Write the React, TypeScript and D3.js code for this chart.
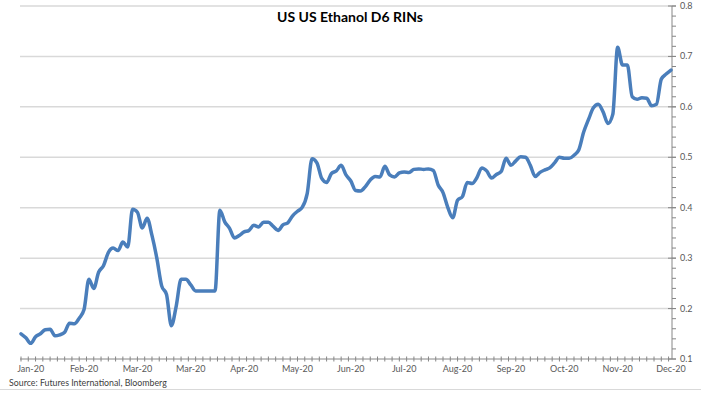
import React from 'react';
import * as d3 from 'd3';

// RIN price at evenly spaced points
const rinValues = [
  0.150, 0.142, 0.131, 0.144, 0.150, 0.158, 0.159, 0.146, 0.148, 0.153,
  0.171, 0.170, 0.181, 0.198, 0.258, 0.240, 0.272, 0.285, 0.311, 0.320,
  0.315, 0.332, 0.322, 0.397, 0.391, 0.360, 0.379, 0.345, 0.300, 0.245,
  0.228, 0.166, 0.205, 0.258, 0.258, 0.247, 0.235, 0.235, 0.235, 0.235,
  0.235, 0.395, 0.372, 0.359, 0.340, 0.345, 0.352, 0.355, 0.365, 0.362,
  0.371, 0.371, 0.363, 0.355, 0.366, 0.370, 0.384, 0.393, 0.401, 0.428,
  0.497, 0.489, 0.458, 0.450, 0.468, 0.473, 0.484, 0.465, 0.453, 0.434,
  0.433, 0.442, 0.455, 0.462, 0.461, 0.482, 0.465, 0.461, 0.469, 0.471,
  0.470, 0.476, 0.477, 0.476, 0.477, 0.474, 0.445, 0.430, 0.400, 0.380,
  0.415, 0.422, 0.450, 0.448, 0.460, 0.479, 0.473, 0.459, 0.466, 0.472,
  0.498, 0.484, 0.493, 0.501, 0.500, 0.484, 0.462, 0.470, 0.475, 0.479,
  0.489, 0.500, 0.498, 0.498, 0.504, 0.515, 0.550, 0.575, 0.598, 0.605,
  0.590, 0.567, 0.585, 0.718, 0.683, 0.683, 0.620, 0.615, 0.618, 0.617,
  0.602, 0.605, 0.655, 0.665, 0.673
];

const monthLabels = [
  'Jan-20', 'Feb-20', 'Mar-20', 'Mar-20', 'Apr-20', 'May-20', 'Jun-20',
  'Jul-20', 'Aug-20', 'Sep-20', 'Oct-20', 'Nov-20', 'Dec-20'
];
const labelStep = 11; // points between month labels
const yTicks = [0.1, 0.2, 0.3, 0.4, 0.5, 0.6, 0.7, 0.8];

function App() {
  const w = 701,
    h = 393;
  const plot = { left: 20, right: 672, top: 6, bottom: 359 };

  const x = d3.scaleLinear()
    .domain([0, rinValues.length - 1])
    .range([plot.left + 1, plot.right - 1]);
  const y = d3.scaleLinear().domain([0.1, 0.8]).range([plot.bottom, plot.top]);

  const line = d3.line<number>()
    .x((d, i) => x(i))
    .y(d => y(d))
    .curve(d3.curveMonotoneX);

  const minorY = d3.range(0.1, 0.8001, 0.02);
  const minorX = d3.range(0, rinValues.length, 1.5);
  const font = 'Lato, "Open Sans", sans-serif';

  return (
    <svg width={w} height={h} style={{ position: 'absolute', left: 0, top: 0 }} fontFamily={font}>
      <rect width={w} height={h} fill="white" />
      {/* gridlines */}
      {yTicks.slice(1).map(t => (
        <line key={t} x1={plot.left} x2={plot.right} y1={y(t)} y2={y(t)} stroke="#d9d9d9" strokeWidth={1.5} />
      ))}
      {/* bottom axis */}
      <line x1={plot.left} x2={plot.right} y1={plot.bottom} y2={plot.bottom} stroke="#868686" strokeWidth={1} />
      {minorX.map(k => (
        <line key={k} x1={x(k)} x2={x(k)} y1={plot.bottom - 2.5} y2={plot.bottom + 2.5} stroke="#868686" />
      ))}
      {monthLabels.map((m, i) => (
        <text key={i} x={x(2 + i * labelStep)} y={372} textAnchor="middle" fontSize={9} fill="#595959">{m}</text>
      ))}
      {/* right axis */}
      <line x1={plot.right} x2={plot.right} y1={plot.top} y2={plot.bottom} stroke="#868686" strokeWidth={1} />
      {minorY.map(t => (
        <line key={t} x1={plot.right} x2={plot.right + 4} y1={y(t)} y2={y(t)} stroke="#868686" />
      ))}
      {yTicks.map(t => (
        <g key={t}>
          <line x1={plot.right - 4} x2={plot.right + 4} y1={y(t)} y2={y(t)} stroke="#868686" />
          <text x={plot.right + 8} y={y(t) + 3} fontSize={9} fill="#595959">{t.toFixed(1)}</text>
        </g>
      ))}
      {/* series */}
      <path d={line(rinValues) || ''} fill="none" stroke="#4a7ebb" strokeWidth={3.5} strokeLinejoin="round" strokeLinecap="round" />
      <text x={350} y={22} textAnchor="middle" fontSize={14} fontWeight="bold" fill="#000">US US Ethanol D6 RINs</text>
      <text x={9} y={386} fontSize={8.8} fill="#404040">Source:  Futures International, Bloomberg</text>
      <line x1={0} x2={w} y1={389.5} y2={389.5} stroke="#d9d9d9" strokeWidth={1} />
    </svg>
  );
}

export default App;
